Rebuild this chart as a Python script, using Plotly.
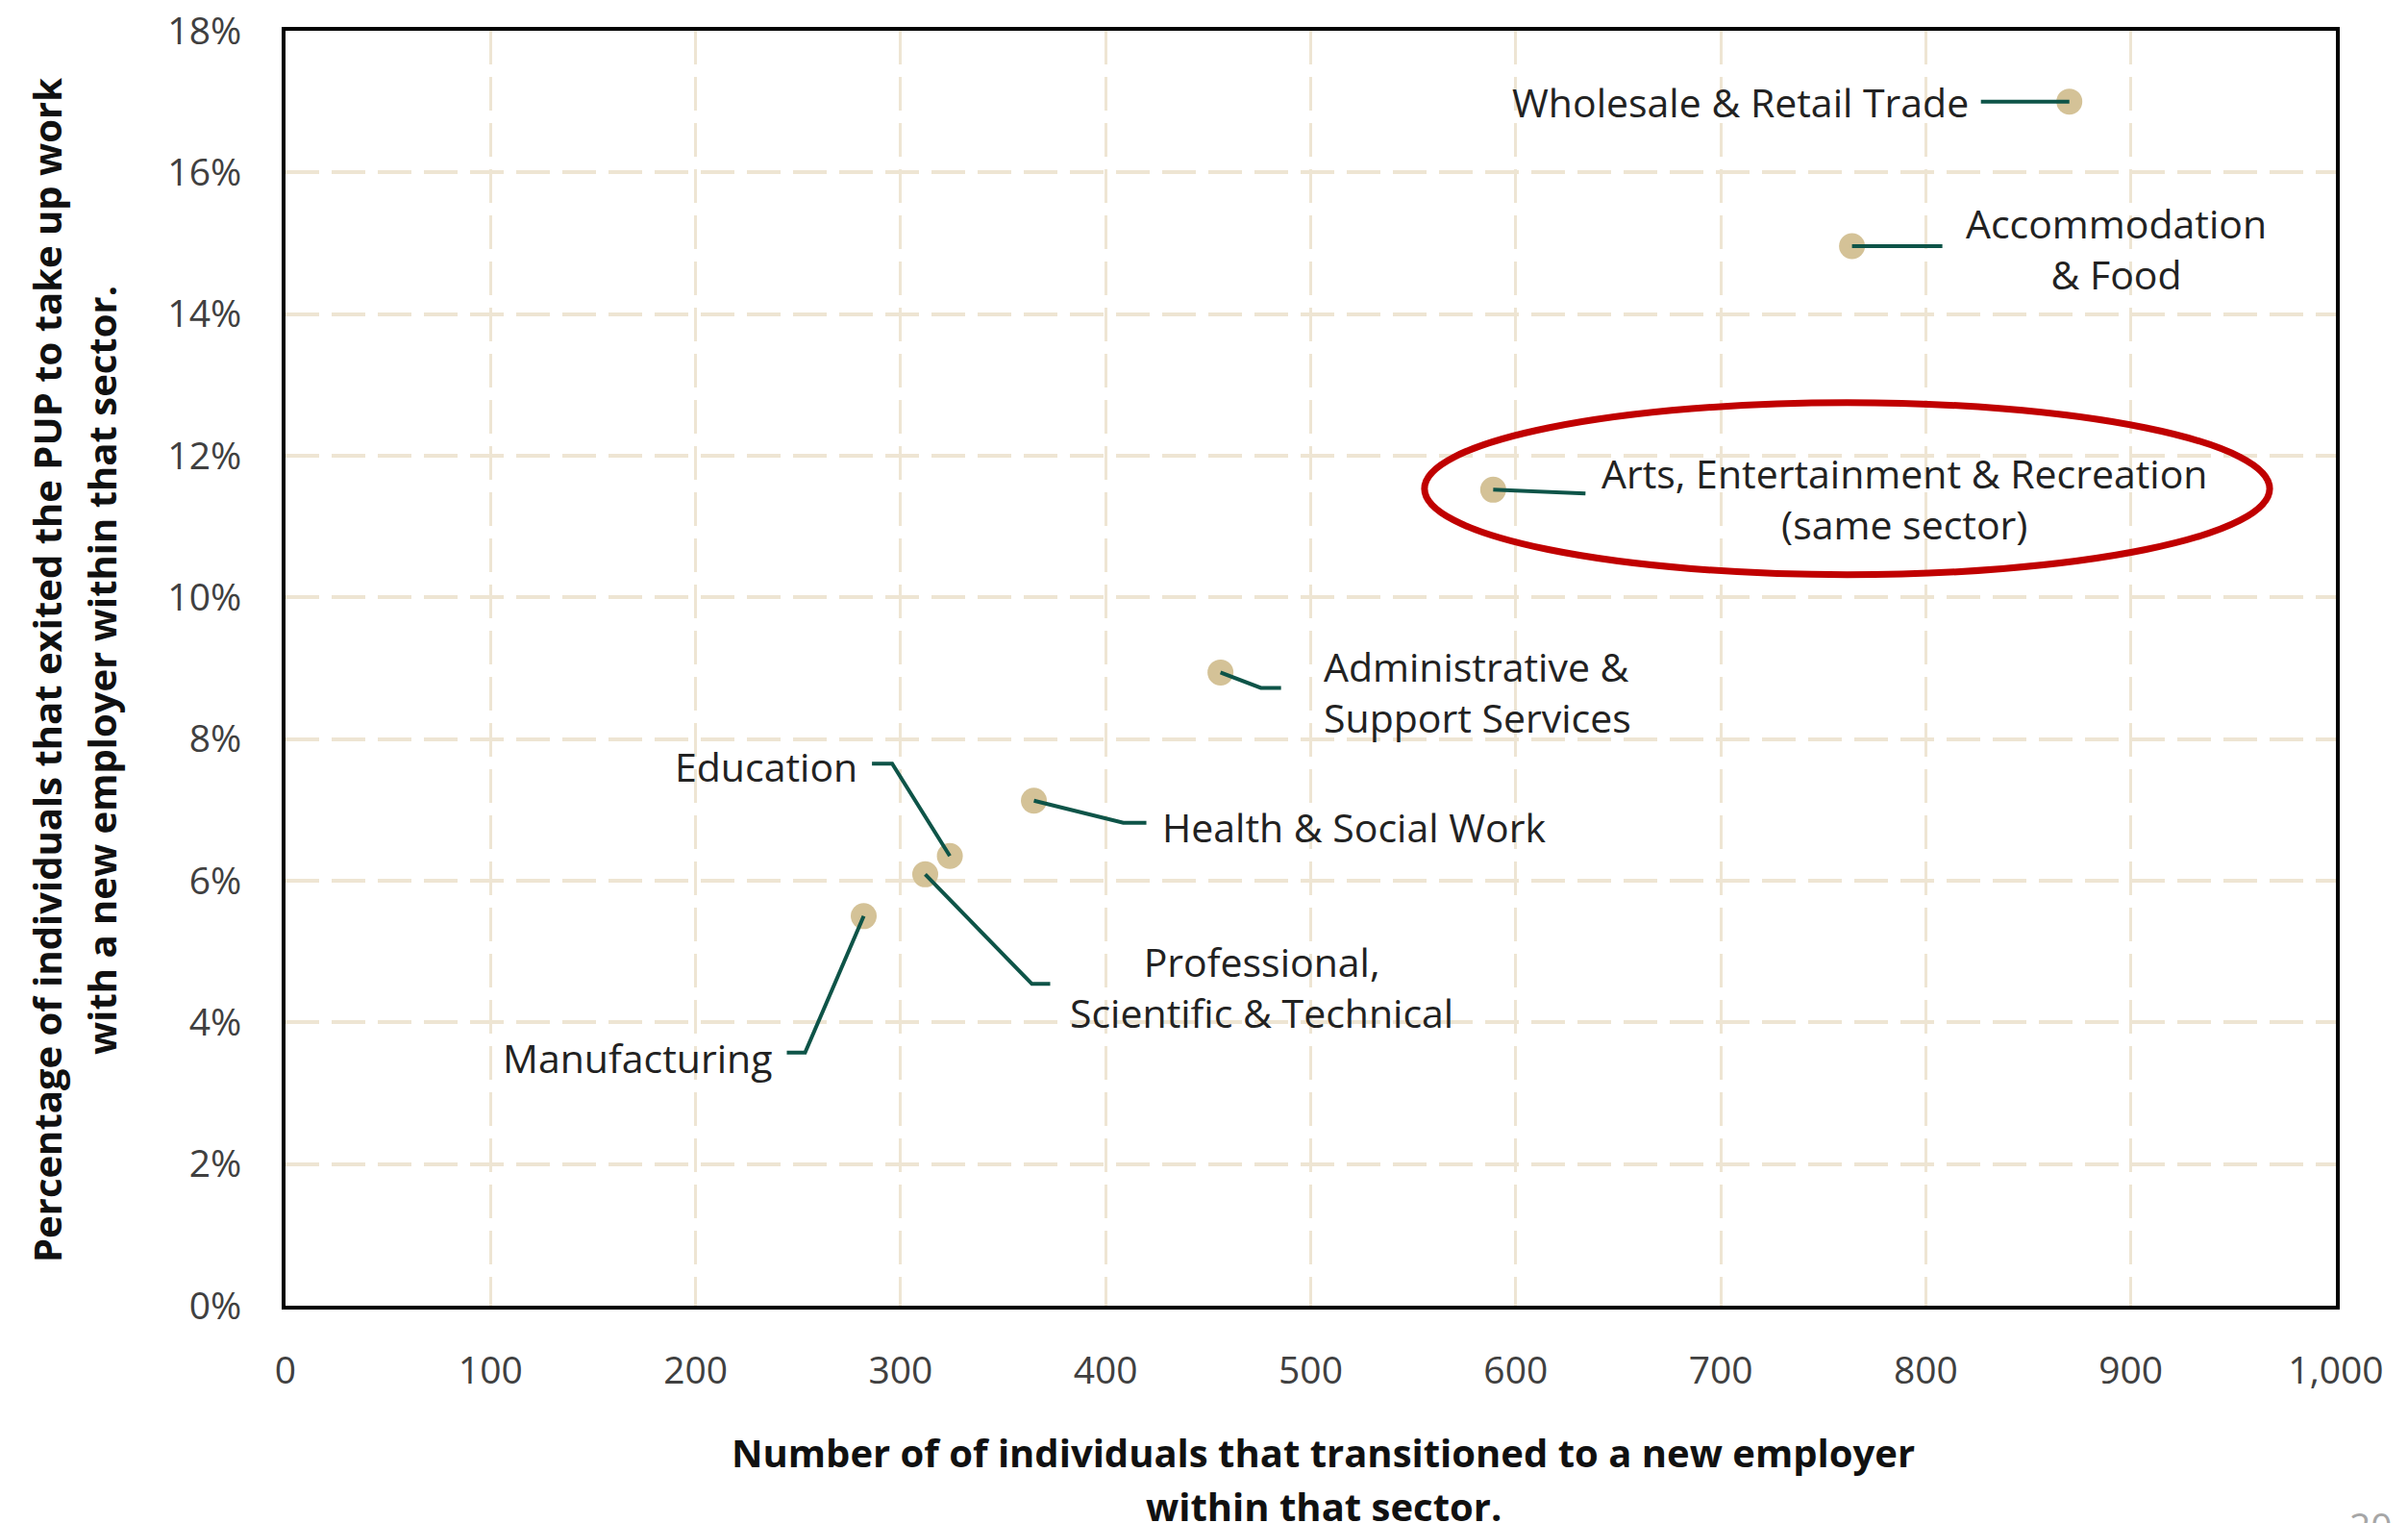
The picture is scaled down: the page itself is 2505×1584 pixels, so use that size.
import plotly.graph_objects as go

# Sector data
sectors = [
    "Wholesale & Retail Trade",
    "Accommodation<br>& Food",
    "Arts, Entertainment & Recreation<br>(same sector)",
    "Administrative &<br>Support Services",
    "Health & Social Work",
    "Education",
    "Professional,<br>Scientific & Technical",
    "Manufacturing",
]
transitions = [870, 764, 589, 456, 365, 324, 312, 282]
pct_exited = [0.170, 0.1496, 0.1152, 0.0894, 0.0713, 0.0635, 0.0609, 0.0550]

x_ticks = list(range(0, 1001, 100))
y_ticks = [i / 100 for i in range(0, 19, 2)]

# leader lines: pixel offsets from each point (y up)
leader_paths = [
    "M0,0 L-92,0",
    "M0,0 L94,0",
    "M0,0 L96,-4",
    "M0,0 L42,-16 L63,-16",
    "M0,0 L93,-23 L117,-23",
    "M0,0 L-60,96 L-81,96",
    "M0,0 L111,-114 L130,-114",
    "M0,0 L-61,-142 L-80,-142",
]
# label placement: (xshift, yshift, xanchor, align)
label_pos = [
    (-105, 0, "right", "right"),
    (275, -3, "center", "center"),
    (428, -9, "center", "center"),
    (107, -20, "left", "left"),
    (133, -27, "left", "left"),
    (-96, 93, "right", "right"),
    (350, -117, "center", "center"),
    (-96, -147, "right", "right"),
]

font_family = "Open Sans"
text_color = "#222222"
tick_color = "#404040"
grid_color = "#EEE5D3"
marker_color = "#D4C297"
leader_color = "#0E5448"

fig = go.Figure()

fig.add_trace(go.Scatter(
    x=transitions,
    y=pct_exited,
    mode="markers",
    marker=dict(size=27, color=marker_color),
    hovertext=[s.replace("<br>", " ") for s in sectors],
    showlegend=False,
))

shapes = []
annotations = []
for xv, yv, path, name, (xs, ys, xa, al) in zip(transitions, pct_exited, leader_paths, sectors, label_pos):
    shapes.append(dict(
        type="path", path=path,
        xref="x", yref="y", xsizemode="pixel", ysizemode="pixel",
        xanchor=xv, yanchor=yv,
        line=dict(color=leader_color, width=4),
        layer="above",
    ))
    annotations.append(dict(
        x=xv, y=yv, xref="x", yref="y", text=name, showarrow=False,
        xshift=xs, yshift=ys, xanchor=xa, yanchor="middle", align=al,
        borderpad=0, borderwidth=0,
        font=dict(family=font_family, size=41, color=text_color),
    ))

# red ellipse highlighting the same-sector point
shapes.append(dict(
    type="circle", xref="x", yref="y",
    x0=555.5, x1=967.7, y0=0.1032, y1=0.1275,
    line=dict(color="#C00000", width=7),
    layer="above",
))

# axis titles, one annotation per line
title_font = dict(family=font_family, size=40, color="#111111")
x_title = ["<b>Number of of individuals that transitioned to a new employer</b>",
           "<b>within that sector.</b>"]
for txt, ys in zip(x_title, [-152, -208]):
    annotations.append(dict(
        xref="paper", yref="paper", x=0.5, y=0, xshift=13, yshift=ys,
        xanchor="center", yanchor="middle", text=txt, showarrow=False,
        font=title_font,
    ))
y_title = ["<b>Percentage of individuals that exited the PUP to take up work</b>",
           "<b>with a new employer within that sector.</b>"]
for txt, xs in zip(y_title, [-249, -192]):
    annotations.append(dict(
        xref="paper", yref="paper", x=0, y=0.5, xshift=xs, yshift=-2,
        xanchor="center", yanchor="middle", textangle=-90, text=txt,
        showarrow=False, font=title_font,
    ))

# page number at the bottom right corner
annotations.append(dict(
    xref="paper", yref="paper", x=1, y=0, xshift=12, yshift=-200,
    xanchor="left", yanchor="top", text="20", showarrow=False,
    font=dict(family=font_family, size=39, color="#A6A6A6"),
))

# margins allow for the 8px page offset of the html body
fig.update_layout(
    width=2505,
    height=1584,
    margin=dict(l=289, r=83, t=24, b=234),
    paper_bgcolor="white",
    plot_bgcolor="white",
    font=dict(family=font_family, color=tick_color),
    shapes=shapes,
    annotations=annotations,
    showlegend=False,
)

fig.update_xaxes(
    range=[0, 1000],
    tickvals=x_ticks,
    tickformat=",d",
    tickfont=dict(size=39, color=tick_color),
    ticks="",
    ticklabelstandoff=30,
    ticklabeloverflow="allow",
    automargin=False,
    showgrid=True, gridcolor=grid_color, gridwidth=3, griddash="35px,13px",
    zeroline=False,
    showline=True, linecolor="black", linewidth=4, mirror=True,
)
fig.update_yaxes(
    range=[0, 0.18],
    tickvals=y_ticks,
    tickformat=".0%",
    tickfont=dict(size=39, color=tick_color),
    ticks="",
    ticklabelstandoff=34,
    ticklabeloverflow="allow",
    automargin=False,
    showgrid=True, gridcolor=grid_color, gridwidth=4, griddash="35px,13px",
    zeroline=False,
    showline=True, linecolor="black", linewidth=4, mirror=True,
)

fig.write_html("out.html")
